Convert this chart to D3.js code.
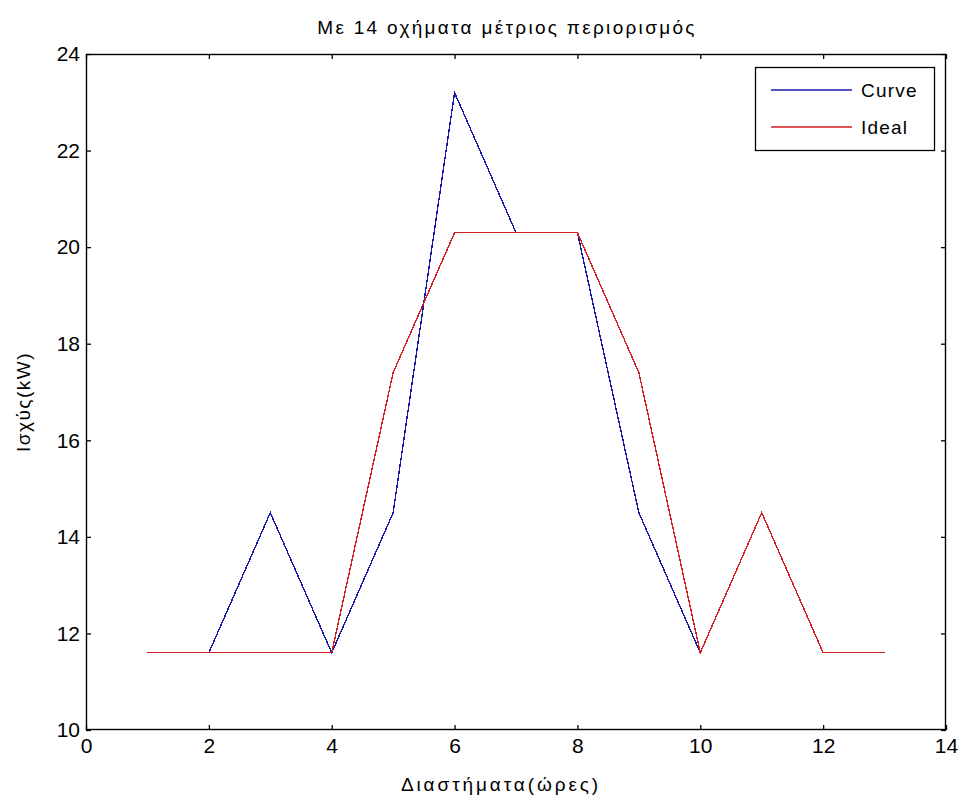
<!DOCTYPE html>
<html><head><meta charset="utf-8">
<script src="https://cdn.jsdelivr.net/npm/d3@7"></script>
<style>body{margin:0;background:#fff;} text{font-family:"Liberation Sans",Arial,sans-serif;}</style>
</head><body>
<svg id="c" width="962" height="802"></svg>
<script>
const xs = [1,2,3,4,5,6,7,8,9,10,11,12,13];
const curve = [11.6,11.6,14.5,11.6,14.5,23.2,20.3,20.3,14.5,11.6,14.5,11.6,11.6];
const ideal = [11.6,11.6,11.6,11.6,17.4,20.3,20.3,20.3,17.4,11.6,14.5,11.6,11.6];
const xTicks = [0,2,4,6,8,10,12,14];
const yTicks = [10,12,14,16,18,20,22,24];
const seriesNames = ["Curve","Ideal"];
const colors = ["#1a1aa8","#d42020"];

const svg = d3.select("#c");
const L=86,R=946,T=54,B=730;
const x = d3.scaleLinear().domain([0,14]).range([L,R]);
const y = d3.scaleLinear().domain([10,24]).range([B,T]);

const tickFont = "'Liberation Sans Narrow', 'Liberation Sans', Arial, sans-serif";
const fs = 21;
svg.append("g").attr("transform",`translate(0,${B})`)
  .call(d3.axisBottom(x).tickValues(xTicks).tickSize(-5).tickPadding(8).tickFormat(d3.format("d")))
  .call(g=>{g.select(".domain").remove();g.attr("font-size",fs).attr("font-family",tickFont);g.selectAll("text").attr("fill","#000");});
svg.append("g").attr("transform",`translate(0,${T})`)
  .call(d3.axisTop(x).tickValues(xTicks).tickSize(-5).tickFormat(""))
  .call(g=>g.select(".domain").remove());
svg.append("g").attr("transform",`translate(${L},0)`)
  .call(d3.axisLeft(y).tickValues(yTicks).tickSize(-5).tickPadding(6).tickFormat(d3.format("d")))
  .call(g=>{g.select(".domain").remove();g.attr("font-size",fs).attr("font-family",tickFont);g.selectAll("text").attr("fill","#000");});
svg.append("g").attr("transform",`translate(${R},0)`)
  .call(d3.axisRight(y).tickValues(yTicks).tickSize(-5).tickFormat(""))
  .call(g=>g.select(".domain").remove());
svg.selectAll(".tick line").attr("stroke","#000").attr("stroke-width",1.3);
svg.append("rect").attr("x",L+0.5).attr("y",T+0.5).attr("width",R-L-1).attr("height",B-T-1)
  .attr("fill","none").attr("stroke","#000").attr("stroke-width",1.4);

const line = d3.line().x((d,i)=>x(xs[i])).y(d=>y(d));
[curve,ideal].forEach((s,k)=>{
  svg.append("path").attr("d",line(s)).attr("fill","none").attr("stroke",colors[k])
    .attr("stroke-width",1.4).attr("shape-rendering","crispEdges");
});

svg.append("text").attr("x",507).attr("y",34).attr("text-anchor","middle").attr("font-size",19).attr("letter-spacing",2.3).text("Με 14 οχήματα μέτριος περιορισμός");
svg.append("text").attr("x",501).attr("y",791).attr("text-anchor","middle").attr("font-size",19).attr("letter-spacing",2.9).text("Διαστήματα(ώρες)");
svg.append("text").attr("transform","translate(30,402) rotate(-90)").attr("text-anchor","middle").attr("font-size",19).attr("letter-spacing",1.5).text("Ισχύς(kW)");

const lg = svg.append("g");
lg.append("rect").attr("x",755.5).attr("y",67.5).attr("width",179).attr("height",83).attr("fill","#fff").attr("stroke","#000").attr("stroke-width",1.3);
seriesNames.forEach((n,k)=>{
  const yy = 90 + k*37;
  lg.append("line").attr("x1",771).attr("x2",852).attr("y1",yy).attr("y2",yy).attr("stroke",colors[k]).attr("stroke-width",1.4);
  lg.append("text").attr("x",861).attr("y",yy+7).attr("font-size",19).attr("letter-spacing",1.2).text(n);
});
</script>
</body></html>
